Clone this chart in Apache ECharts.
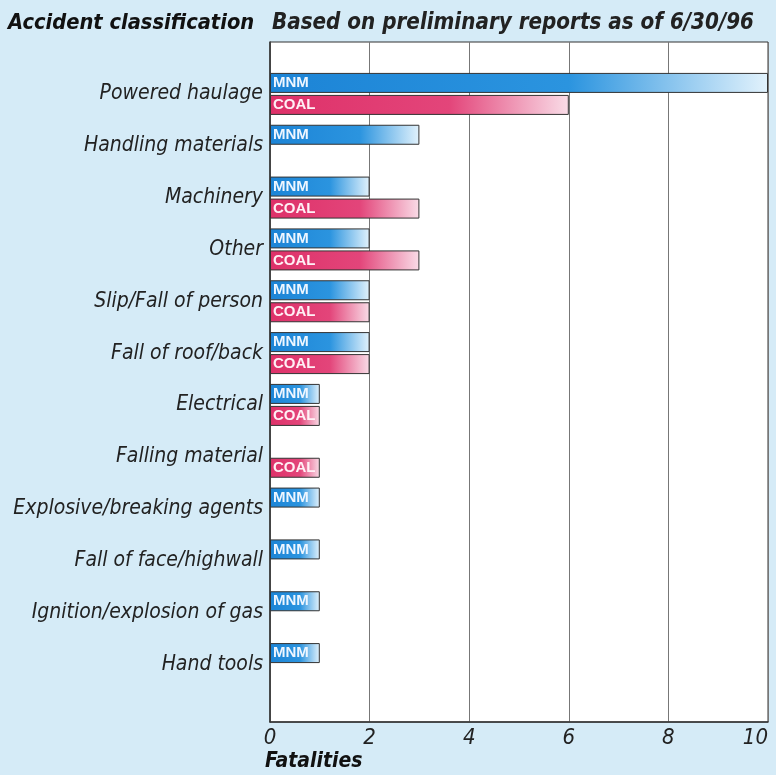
<!DOCTYPE html>
<html>
<head>
<meta charset="utf-8">
<script src="https://cdn.jsdelivr.net/npm/echarts@6/dist/echarts.min.js"></script>
<style>
html, body { margin: 0; padding: 0; background: #d5ebf7; }
#chart { width: 776px; height: 775px; }
</style>
</head>
<body>
<div id="chart"></div>
<script>
// 事故分类
const categories = [
	'Powered haulage', 'Handling materials', 'Machinery', 'Other',
	'Slip/Fall of person', 'Fall of roof/back', 'Electrical', 'Falling material',
	'Explosive/breaking agents', 'Fall of face/highwall', 'Ignition/explosion of gas', 'Hand tools'
];
const mnmValues = [10, 3, 2, 2, 2, 2, 1, null, 1, 1, 1, 1];
const coalValues = [6, null, 3, 3, 2, 2, 1, 1, null, null, null, null];
const xTicks = [0, 2, 4, 6, 8, 10];

const narrow = '"Liberation Sans Narrow", "DejaVu Sans Condensed", sans-serif';

function grad(c0, c1, c2) {
	return new echarts.graphic.LinearGradient(0, 0, 1, 0, [
		{ offset: 0, color: c0 },
		{ offset: 0.6, color: c1 },
		{ offset: 1, color: c2 }
	]);
}

const myChart = echarts.init(document.getElementById('chart'));

const option = {
	backgroundColor: '#d5ebf7',
	title: [
		{
			text: 'Accident classification',
			left: 8, top: 12, padding: 0,
			textStyle: { fontFamily: narrow, fontStyle: 'italic', fontWeight: 'bold', fontSize: 21.7, color: '#111' }
		},
		{
			text: 'Based on preliminary reports as of 6/30/96',
			left: 272, top: 12, padding: 0,
			textStyle: { fontFamily: narrow, fontStyle: 'italic', fontWeight: 'bold', fontSize: 22.2, color: '#222' }
		},
		{
			text: 'Fatalities',
			left: 265, top: 751, padding: 0,
			textStyle: { fontFamily: narrow, fontStyle: 'italic', fontWeight: 'bold', fontSize: 21, color: '#111' }
		}
	],
	grid: [
		// 条形图
		{ left: 270, right: 8, top: 68, bottom: 85, outerBoundsMode: 'none' },
		// 背景和网格线
		{ left: 270, right: 8, top: 42, bottom: 53, outerBoundsMode: 'none', show: true, backgroundColor: '#fff', borderColor: '#333', borderWidth: 1, z: 0 }
	],
	xAxis: [
		{ gridIndex: 0, type: 'value', min: 0, max: 10, interval: 2, show: false },
		{
			gridIndex: 1, type: 'value', min: xTicks[0], max: xTicks[xTicks.length - 1], interval: 2,
			axisLine: { show: true, lineStyle: { color: '#333', width: 1.5 } },
			axisTick: { show: false },
			axisLabel: { fontFamily: narrow, fontStyle: 'italic', fontSize: 22, color: '#222', margin: 5, alignMaxLabel: 'right' },
			splitLine: { show: true, lineStyle: { color: '#777', width: 1 } }
		}
	],
	yAxis: [
		{
			gridIndex: 0, type: 'category', data: categories, inverse: true,
			axisLine: { show: false },
			axisTick: { show: false },
			axisLabel: { fontFamily: narrow, fontStyle: 'italic', fontSize: 21, color: '#222', margin: 7 }
		},
		{
			gridIndex: 1, type: 'value', min: 0, max: 1, show: true,
			axisLine: { show: true, lineStyle: { color: '#333', width: 1.5 } },
			axisTick: { show: false }, axisLabel: { show: false }, splitLine: { show: false }
		}
	],
	series: [
		{
			name: 'MNM',
			type: 'bar',
			xAxisIndex: 0, yAxisIndex: 0,
			data: mnmValues,
			barWidth: 20,
			barGap: '10%',
			z: 3,
			itemStyle: { color: grad('#1c84d6', '#2b94df', '#e2f2fc'), borderColor: '#333', borderWidth: 1 },
			label: { show: true, position: 'insideLeft', offset: [-2, 0], formatter: 'MNM', fontFamily: '"Liberation Sans", sans-serif', fontWeight: 'bold', fontSize: 15, color: '#eef6ff' }
		},
		{
			name: 'COAL',
			type: 'bar',
			xAxisIndex: 0, yAxisIndex: 0,
			data: coalValues,
			barWidth: 20,
			z: 3,
			itemStyle: { color: grad('#de3169', '#e3457a', '#f9dce7'), borderColor: '#333', borderWidth: 1 },
			label: { show: true, position: 'insideLeft', offset: [-2, 0], formatter: 'COAL', fontFamily: '"Liberation Sans", sans-serif', fontWeight: 'bold', fontSize: 15, color: '#fff0f5' }
		}
	]
};
myChart.setOption(option);
</script>
</body>
</html>
